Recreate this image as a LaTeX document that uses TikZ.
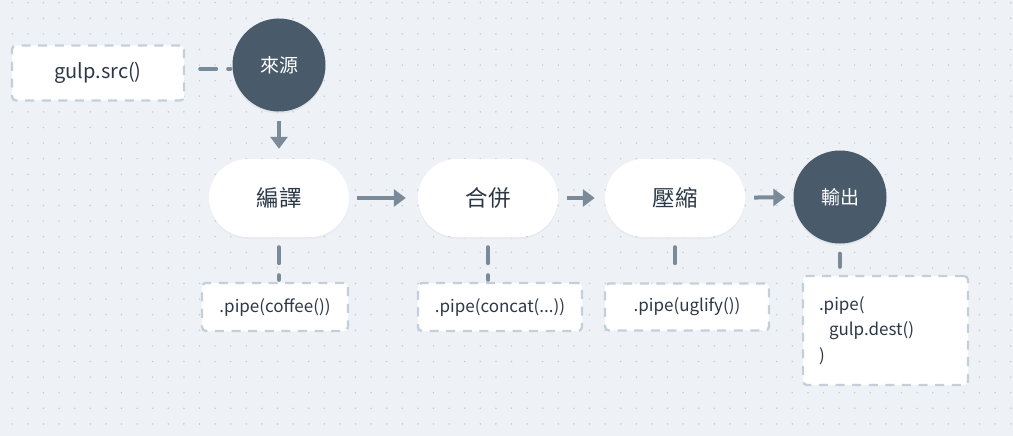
\documentclass[tikz,border=0pt]{standalone}
\usepackage{fontspec}
\setmainfont{Noto Sans CJK TC}
\usetikzlibrary{arrows.meta, shadows}
\definecolor{bgcolor}{HTML}{EEF2F6}
\definecolor{dotcolor}{HTML}{C3CCD6}
\definecolor{linecolor}{HTML}{7B8A99}
\definecolor{boxline}{HTML}{C5CFD9}
\definecolor{darkfill}{HTML}{495A6B}
\definecolor{textcolor}{HTML}{2C3848}
\tikzset{
  stage/.style={draw=none, fill=white, rounded corners=39pt, minimum width=140pt, minimum height=78pt,
    text=textcolor, font=\fontsize{22.5}{26}\selectfont, drop shadow={opacity=0.06, shadow xshift=0pt, shadow yshift=-2pt}},
  endpoint/.style={circle, fill=darkfill, minimum size=93pt, inner sep=0pt, text=white,
    font=\fontsize{19}{22}\selectfont, drop shadow={opacity=0.10, shadow xshift=0pt, shadow yshift=-2pt}},
  codebox/.style={draw=boxline, line width=2.3pt, dash pattern=on 9pt off 7.6pt, fill=white,
    rounded corners=4pt, text=textcolor, font=\fontsize{17}{25.5}\selectfont, inner sep=0pt},
  flow/.style={draw=linecolor, line width=4pt, -{Triangle[width=17pt,length=12pt]}},
  tie/.style={draw=linecolor, line width=4pt, line cap=round, dash pattern=on 16pt off 12pt}
}
\begin{document}
\begin{tikzpicture}[x=1pt, y=-1pt]
% Draw background and dot grid
\fill[bgcolor] (0,0) rectangle (1013,436);
\useasboundingbox (0,0) rectangle (1013,436);
\foreach \i in {0,...,64}
  \foreach \j in {0,...,27}
    \fill[dotcolor] (12.3+\i*15.6, 2.7+\j*15.6) circle [radius=0.85];
% Draw main stages
\node[endpoint] (source) at (279,65) {來源};
\node[stage] (compile) at (279,198) {編譯};
\node[stage] (concat) at (488,198) {合併};
\node[stage] (uglify) at (675,198) {壓縮};
\node[endpoint] (output) at (840,197) {輸出};
% Draw code boxes
\node[codebox, minimum width=172pt, minimum height=55pt, font=\fontsize{20}{24}\selectfont] (src) at (98,73) {gulp.src()};
\node[codebox, minimum width=146pt, minimum height=48pt] (pipe-compile) at (275,307) {.pipe(coffee())};
\node[codebox, minimum width=164pt, minimum height=48pt] (pipe-concat) at (500,307) {.pipe(concat(...))};
\node[codebox, minimum width=164pt, minimum height=47pt] (pipe-uglify) at (687,307) {.pipe(uglify())};
\node[codebox, minimum width=165pt, minimum height=109pt, align=left, text width=133pt] (pipe-output) at (885.5,330.5)
  {.pipe(\\\hspace*{10pt}gulp.dest()\\)};
% Draw arrows between stages
\draw[flow, shorten <=9pt, shorten >=10pt] (source) -- (compile);
\draw[flow, shorten <=8pt, shorten >=12pt] (compile) -- (concat);
\draw[flow, shorten <=9pt, shorten >=10pt] (concat) -- (uglify);
\draw[flow, shorten <=9pt, shorten >=8pt] (uglify) -- (output);
% Draw dashed ties to the code boxes
\draw[tie, shorten <=15pt, shorten >=2pt] ([yshift=4pt]src.east) -- ([yshift=4pt]src.east -| source.west);
\draw[tie, shorten <=10pt, shorten >=2pt] (compile.south) -- (compile.south |- pipe-compile.north);
\draw[tie, shorten <=10pt, shorten >=2pt] (concat.south) -- (concat.south |- pipe-concat.north);
\draw[tie, shorten <=10pt, shorten >=19pt] (uglify.south) -- (uglify.south |- pipe-uglify.north);
\draw[tie, shorten <=10pt, shorten >=8pt] (output.south) -- (output.south |- pipe-output.north);
\end{tikzpicture}
\end{document}
